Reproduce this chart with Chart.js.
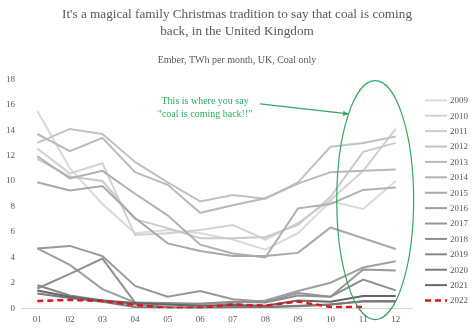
<!DOCTYPE html>
<html>
<head>
<meta charset="utf-8">
<title>UK coal</title>
<script src="https://cdn.jsdelivr.net/npm/chart.js@4.4.0/dist/chart.umd.min.js"></script>
<style>
  body { margin: 0; background: #fff; }
  #box { width: 474px; height: 331px; }
</style>
</head>
<body>
<div id="box"><canvas id="myChart"></canvas></div>
<script>
'use strict';
// months on the x axis
let months = ['01','02','03','04','05','06','07','08','09','10','11','12'];
let yTicks = [0,2,4,6,8,10,12,14,16,18];

// coal generation, TWh per month
let coal2009 = [15.5, 11.0, 8.2, 5.9, 6.15, 5.9, 5.4, 4.6, 5.9, 8.4, 7.8, 10.0];
let coal2010 = [12.55, 10.6, 11.4, 5.75, 5.9, 6.15, 6.55, 5.4, 6.7, 8.5, 10.8, 14.1];
let coal2011 = [11.75, 10.35, 10.0, 7.0, 6.3, 5.5, 5.5, 5.6, 6.55, 8.75, 12.3, 13.0];
let coal2012 = [13.0, 14.1, 13.7, 11.5, 9.9, 8.4, 8.9, 8.6, 9.9, 12.7, 13.0, 13.5];
let coal2013 = [13.7, 12.35, 13.4, 10.7, 9.7, 7.5, 8.1, 8.65, 9.8, 10.7, 10.8, 10.9];
let coal2014 = [11.95, 10.2, 10.8, 9.0, 7.3, 5.0, 4.3, 4.0, 7.85, 8.2, 9.3, 9.5];
let coal2015 = [9.9, 9.25, 9.6, 7.1, 5.1, 4.5, 4.1, 4.1, 4.35, 6.35, 5.5, 4.65];
let coal2016 = [4.7, 3.4, 1.5, 0.45, 0.3, 0.35, 0.4, 0.6, 1.35, 2.0, 3.2, 3.7];
let coal2017 = [4.7, 4.9, 4.1, 1.75, 0.9, 1.35, 0.7, 0.5, 1.2, 0.9, 3.05, 2.96];
let coal2018 = [1.55, 2.7, 3.9, 0.45, 0.4, 0.35, 0.5, 0.45, 1.0, 0.9, 2.25, 1.4];
let coal2019 = [1.8, 1.0, 0.6, 0.3, 0.1, 0.05, 0.1, 0.1, 0.2, 0.3, 0.55, 0.5];
let coal2020 = [1.15, 0.8, 0.5, 0.1, 0.0, 0.0, 0.05, 0.1, 0.15, 0.3, 0.55, 0.57];
let coal2021 = [1.4, 0.9, 0.6, 0.4, 0.3, 0.2, 0.25, 0.2, 0.6, 0.5, 0.96, 0.96];
let coal2022 = [0.57, 0.65, 0.57, 0.26, 0.02, 0.03, 0.3, 0.2, 0.52, 0.1, 0.1, null];

let years = ['2009','2010','2011','2012','2013','2014','2015','2016','2017','2018','2019','2020','2021','2022'];
let allYears = [coal2009, coal2010, coal2011, coal2012, coal2013, coal2014, coal2015,
                coal2016, coal2017, coal2018, coal2019, coal2020, coal2021, coal2022];

// light grey for old years getting darker, red dashes for 2022
let greys = ['#dadada','#d2d2d2','#cacaca','#c2c2c2','#bababa','#b1b1b1','#a9a9a9',
             '#a0a0a0','#989898','#8f8f8f','#878787','#7a7a7a','#666666'];

let textGrey = '#595959';
let green = '#2eaa62';
let serif = "'Liberation Serif', 'DejaVu Serif', serif";

let datasets = [];
for (let i = 0; i < years.length; i++) {
    let last = i === years.length - 1;
    datasets.push({
        label: years[i],
        data: allYears[i],
        borderColor: last ? '#e0161e' : greys[i],
        backgroundColor: last ? '#e0161e' : greys[i],
        borderWidth: last ? 2.5 : 2,
        borderDash: last ? [6, 4] : [],
        pointRadius: 0,
        tension: 0,
        order: years.length - i
    });
}

// legend on the right, drawn by hand so it sits where the original one does
let sideLegend = {
    id: 'sideLegend',
    afterDraw(chart) {
        let ctx = chart.ctx;
        let area = chart.chartArea;
        ctx.save();
        ctx.font = '9px ' + serif;
        ctx.textAlign = 'left';
        ctx.textBaseline = 'middle';
        for (let i = 0; i < chart.data.datasets.length; i++) {
            let ds = chart.data.datasets[i];
            let y = area.top + 21 + i * 15.4;
            ctx.strokeStyle = ds.borderColor;
            ctx.lineWidth = ds.borderWidth;
            ctx.setLineDash(ds.borderDash);
            ctx.beginPath();
            ctx.moveTo(area.right + 13, y);
            ctx.lineTo(area.right + 35, y);
            ctx.stroke();
            ctx.setLineDash([]);
            ctx.fillStyle = textGrey;
            ctx.fillText(ds.label, area.right + 38, y + 0.5);
        }
        ctx.restore();
    }
};

// the green ring and the note
let notePlugin = {
    id: 'note',
    afterDatasetsDraw(chart) {
        let ctx = chart.ctx;
        let xs = chart.scales.x;
        let ys = chart.scales.y;
        let cx = xs.getPixelForValue(10.37);
        let cy = ys.getPixelForValue(8.5);
        let rx = (xs.getPixelForValue(1) - xs.getPixelForValue(0)) * 1.18;
        let ry = ys.getPixelForValue(0) - ys.getPixelForValue(9.4);
        ctx.save();
        ctx.strokeStyle = green;
        ctx.lineWidth = 1.2;
        ctx.beginPath();
        ctx.ellipse(cx, cy, rx, ry, 0, 0, Math.PI * 2);
        ctx.stroke();

        // text
        let tx = xs.getPixelForValue(5.15);
        let ty = ys.getPixelForValue(16.3);
        ctx.fillStyle = green;
        ctx.font = '10px ' + serif;
        ctx.textAlign = 'center';
        ctx.textBaseline = 'middle';
        ctx.fillText('This is where you say', tx, ty);
        ctx.fillText('"coal is coming back!!"', tx, ty + 13);

        // arrow from the note to the edge of the ring
        let ax = tx + 55;
        let ay = ty + 3;
        let by = ty + 13;
        let k = (by - cy) / ry;
        let bx = cx - rx * Math.sqrt(1 - k * k);
        ctx.beginPath();
        ctx.moveTo(ax, ay);
        ctx.lineTo(bx, by);
        ctx.stroke();
        let ang = Math.atan2(by - ay, bx - ax);
        ctx.beginPath();
        ctx.moveTo(bx, by);
        ctx.lineTo(bx - 6 * Math.cos(ang - 0.45), by - 6 * Math.sin(ang - 0.45));
        ctx.lineTo(bx - 6 * Math.cos(ang + 0.45), by - 6 * Math.sin(ang + 0.45));
        ctx.closePath();
        ctx.fill();
        ctx.restore();
    }
};

let ctx = document.getElementById('myChart').getContext('2d');
let myChart = new Chart(ctx, {
    type: 'line',
    data: {
        labels: months,
        datasets: datasets
    },
    options: {
        responsive: true,
        maintainAspectRatio: false,
        animation: false,
        layout: { padding: { top: 2, left: 0, right: 0, bottom: 0 } },
        plugins: {
            title: {
                display: true,
                text: ["It's a magical family Christmas tradition to say that coal is coming", 'back, in the United Kingdom'],
                color: textGrey,
                font: { family: serif, size: 13.2, weight: 'normal', lineHeight: 1.3 },
                padding: { top: 4, bottom: 14 }
            },
            subtitle: {
                display: true,
                text: 'Ember, TWh per month, UK, Coal only',
                color: textGrey,
                font: { family: serif, size: 10 },
                padding: { bottom: 13 }
            },
            legend: { display: false },
            tooltip: { enabled: false }
        },
        scales: {
            x: {
                offset: true,
                grid: { display: false, drawTicks: false },
                border: { color: '#d9d9d9' },
                ticks: { color: textGrey, font: { family: serif, size: 9 }, padding: 6 }
            },
            y: {
                min: 0,
                max: 18,
                afterBuildTicks(axis) {
                    axis.ticks = yTicks.map(v => ({ value: v }));
                },
                grid: { display: false, drawTicks: false },
                border: { display: false },
                ticks: { color: textGrey, font: { family: serif, size: 9 }, padding: 6 }
            },
            // empty axis on the right, it only keeps room for the legend
            room: {
                type: 'linear',
                position: 'right',
                grid: { display: false, drawTicks: false },
                border: { display: false },
                ticks: { display: false },
                afterFit(axis) {
                    axis.width = 62;
                }
            }
        }
    },
    plugins: [notePlugin, sideLegend]
});
</script>
</body>
</html>
